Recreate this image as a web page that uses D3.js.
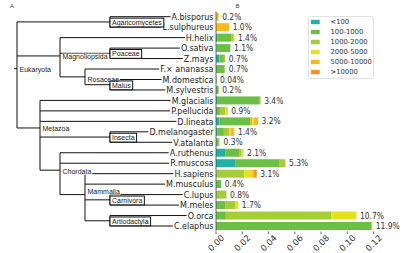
<!DOCTYPE html>
<html><head><meta charset="utf-8">
<script src="https://cdn.jsdelivr.net/npm/d3@7"></script>
<style>body{margin:0;background:#fff}svg{display:block}</style>
</head><body>
<svg id="c" width="407" height="253"></svg>
<script>
// ---------- DATA ----------
const species = ["A.bisporus","L.sulphureus","H.helix","O.sativa","Z.mays","F.\u00d7 ananassa","M.domestica","M.sylvestris","M.glacialis","P.pellucida","D.lineata","D.melanogaster","V.atalanta","A.ruthenus","R.muscosa","H.sapiens","M.musculus","C.lupus","M.meles","O.orca","C.elaphus"];
const percentLabels = ["0.2%","1.0%","1.4%","1.1%","0.7%","0.7%","0.04%","0.2%","3.4%","0.9%","3.2%","1.4%","0.3%","2.1%","5.3%","3.1%","0.4%","0.8%","1.7%","10.7%","11.9%"];
const binNames = ["<100","100-1000","1000-2000","2000-5000","5000-10000",">10000"];
const binColors = ["#1fb3a6","#6cbf45","#a5cd39","#e3e21c","#fbbb16","#f7931e"];
const binLt100     = [0,0,0.001,0.0005,0.0025,0,0,0,0.0008,0,0.0025,0.001,0,0.007,0.015,0,0,0,0,0,0];
const bin100_1000  = [0,0,0.0105,0.0105,0.0035,0.0065,0.0004,0.002,0.0325,0.003,0.0235,0.005,0.002,0.0105,0.033,0.0005,0.004,0.0005,0.007,0.0075,0.1185];
const bin1000_2000 = [0,0,0.002,0,0.001,0.0005,0,0,0.0007,0.004,0.0015,0.004,0.0005,0.002,0.0045,0.021,0,0.0075,0.0075,0.0805,0];
const bin2000_5000 = [0,0,0.0005,0,0,0,0,0,0,0.0015,0.0015,0.001,0.0005,0.0015,0.0005,0.006,0,0,0.0025,0.019,0];
const bin5000_10000= [0.002,0.010,0,0,0,0,0,0,0,0.0005,0.003,0.003,0,0,0,0.0015,0,0,0,0,0.0005];
const binGt10000   = [0,0,0,0,0,0,0,0,0,0,0,0,0,0,0,0.002,0,0,0,0,0];
const xTicks = [0,0.02,0.04,0.06,0.08,0.10,0.12];
const treeData = {name:"Eukaryota",children:[
  {name:"Agaricomycetes",children:[{name:"A.bisporus"},{name:"L.sulphureus"}]},
  {name:"Magnoliopsida",children:[
    {name:"H.helix"},
    {name:"Poaceae",children:[{name:"O.sativa"},{name:"Z.mays"}]},
    {name:"Rosaceae",children:[{name:"F.\u00d7 ananassa"},{name:"Malus",children:[{name:"M.domestica"},{name:"M.sylvestris"}]}]}
  ]},
  {name:"Metazoa",children:[
    {name:"M.glacialis"},{name:"P.pellucida"},{name:"D.lineata"},
    {name:"Insecta",children:[{name:"D.melanogaster"},{name:"V.atalanta"}]},
    {name:"Chordata",children:[
      {name:"A.ruthenus"},{name:"R.muscosa"},
      {name:"Mammalia",children:[
        {name:"H.sapiens"},{name:"M.musculus"},
        {name:"Carnivora",children:[{name:"C.lupus"},{name:"M.meles"}]},
        {name:"Artiodactyla",children:[{name:"O.orca"},{name:"C.elaphus"}]}
      ]}
    ]}
  ]}
]};
const boxedNodes = ["Agaricomycetes","Poaceae","Malus","Insecta","Carnivora","Artiodactyla"];

// ---------- LAYOUT ----------
const nodeX = {Eukaryota:17,Agaricomycetes:110,Magnoliopsida:60,Poaceae:110,Rosaceae:85,Malus:110,Metazoa:40,Insecta:110,Chordata:60,Mammalia:85,Carnivora:110,Artiodactyla:110};
const labelShift = {Rosaceae:1.5,Mammalia:-4.5};
const svg = d3.select("#c");
const y = d3.scalePoint().domain(species).range([16.7,226]);
const x = d3.scaleLinear().domain([0,0.12]).range([216,373.6]);
const barH = 8;
const nameFont = "DejaVu Sans, sans-serif";
function condense(sel,f){sel.each(function(){const L=this.getComputedTextLength();d3.select(this).attr("textLength",L*f).attr("lengthAdjust","spacingAndGlyphs");});}

// ---------- BARS ----------
const rows = species.map((s,i)=>({species:s,"<100":binLt100[i],"100-1000":bin100_1000[i],"1000-2000":bin1000_2000[i],"2000-5000":bin2000_5000[i],"5000-10000":bin5000_10000[i],">10000":binGt10000[i]}));
const stack = d3.stack().keys(binNames)(rows);
const color = d3.scaleOrdinal().domain(binNames).range(binColors);
svg.append("g").selectAll("g").data(stack).join("g").attr("fill",d=>color(d.key))
  .selectAll("rect").data(d=>d).join("rect")
  .attr("x",d=>x(d[0])).attr("width",d=>Math.max(0,x(d[1])-x(d[0])))
  .attr("y",d=>y(d.data.species)-barH/2).attr("height",barH);

// left spine
svg.append("line").attr("x1",x(0)).attr("x2",x(0)).attr("y1",y(species[0])-5.2).attr("y2",y(species[species.length-1])+5.2)
  .attr("stroke","#444").attr("stroke-width",0.8);

// percent labels
const totals = rows.map(r=>binNames.reduce((a,k)=>a+r[k],0));
svg.append("g").selectAll("text").data(species).join("text")
  .attr("x",(d,i)=>x(totals[i])+3.5).attr("y",d=>y(d)).attr("dy","0.36em")
  .attr("font-family",nameFont).attr("font-size",8.6).attr("fill","#333")
  .text((d,i)=>percentLabels[i]).call(condense,0.88);

// x axis tick labels (rotated 45)
const ax = svg.append("g");
ax.selectAll("line").data(xTicks).join("line")
  .attr("x1",d=>x(d)).attr("x2",d=>x(d)).attr("y1",231.5).attr("y2",234).attr("stroke","#444").attr("stroke-width",0.8);
ax.selectAll("text").data(xTicks).join("text")
  .attr("transform",d=>`translate(${x(d)},243) rotate(-45)`)
  .attr("text-anchor","middle").attr("dy","0.36em")
  .attr("font-family",nameFont).attr("font-size",8.5).attr("fill","#333")
  .text(d=>d3.format(".2f")(d));

// species names
const names = svg.append("g").selectAll("text").data(species).join("text")
  .attr("x",213.5).attr("y",d=>y(d)).attr("dy","0.36em").attr("text-anchor","end")
  .attr("font-family",nameFont).attr("font-size",9).attr("fill","#222")
  .text(d=>d).call(condense,0.89);
const nameStart = {};
names.each(function(d){nameStart[d]=213.5-(+this.getAttribute("textLength"));});

// ---------- TREE ----------
const root = d3.hierarchy(treeData);
root.eachAfter(n=>{
  if(!n.children){n.px=nameStart[n.data.name]-1;n.py=y(n.data.name);}
  else{n.px=nodeX[n.data.name];n.py=d3.mean(n.children,c=>c.py);}
});
const tg = svg.append("g").attr("stroke","#111").attr("stroke-width",1).attr("fill","none");
root.each(n=>{
  if(!n.children) return;
  tg.append("line").attr("x1",n.px).attr("x2",n.px).attr("y1",n.children[0].py).attr("y2",n.children[n.children.length-1].py);
  n.children.forEach(c=>{
    tg.append("line").attr("x1",n.px).attr("x2",c.px).attr("y1",c.py).attr("y2",c.py);
  });
});
tg.append("line").attr("x1",root.px-3).attr("x2",root.px).attr("y1",root.py).attr("y2",root.py);

const rg = svg.append("g"), lg = svg.append("g");
root.each(n=>{
  if(!n.children) return;
  const boxed = boxedNodes.includes(n.data.name);
  const ly = n.py + (boxed?0.6:1+(labelShift[n.data.name]||0));
  const t = lg.append("text").attr("x",n.px+(boxed?2:2.5)).attr("y",ly).attr("dy","0.36em")
    .attr("font-family","Liberation Sans, Arial, sans-serif").attr("font-size",7).attr("fill","#222").text(n.data.name);
  const w=t.node().getComputedTextLength();
  if(boxed){
    rg.append("rect").attr("x",n.px).attr("y",n.py-3.8).attr("width",w+4).attr("height",8.8)
      .attr("fill","#fff").attr("stroke","#111").attr("stroke-width",1);
  } else {
    rg.append("rect").attr("x",n.px+1.5).attr("y",ly-3.3).attr("width",w+2).attr("height",6.8).attr("fill","#fff");
  }
});

// ---------- LEGEND ----------
const leg = svg.append("g").attr("transform","translate(308.5,16.5)");
leg.append("rect").attr("width",65).attr("height",62).attr("rx",2).attr("fill","#fff").attr("stroke","#d8d8d8").attr("stroke-width",0.8);
binNames.forEach((b,i)=>{
  leg.append("rect").attr("x",2.5).attr("y",5.5+10*i-2.2).attr("width",8.7).attr("height",4.4).attr("fill",color(b));
  leg.append("text").attr("x",22).attr("y",5.5+10*i).attr("dy","0.36em").attr("font-family",nameFont)
    .attr("font-size",6.8).attr("fill","#333").text(b);
});

// panel labels
svg.append("text").attr("x",10).attr("y",7.5).attr("font-family","Liberation Sans, Arial, sans-serif").attr("font-size",6).attr("fill","#444").text("A");
svg.append("text").attr("x",235.5).attr("y",7.5).attr("font-family","Liberation Sans, Arial, sans-serif").attr("font-size",6).attr("fill","#444").text("B");
</script>
</body></html>
